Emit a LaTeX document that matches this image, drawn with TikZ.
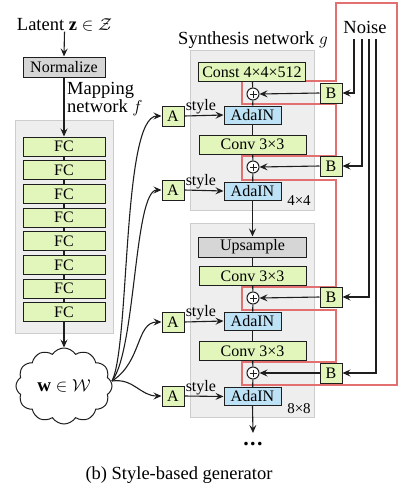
\documentclass[tikz,border=0pt]{standalone}
\usepackage{fontspec}
\setmainfont{Liberation Serif}
\usetikzlibrary{shapes.symbols,arrows.meta}
\definecolor{gfill}{RGB}{226,245,186}
\definecolor{bfill}{RGB}{189,225,245}
\definecolor{graybg}{RGB}{238,238,238}
\definecolor{grayline}{RGB}{205,205,205}
\definecolor{nfill}{RGB}{214,214,214}
\definecolor{redline}{RGB}{226,112,112}
\definecolor{ink}{RGB}{30,30,30}
\begin{document}
\begin{tikzpicture}[x=1pt,y=-1pt,
  every node/.style={inner sep=0pt},
  fnt/.style={font=\fontsize{#1}{#1}\selectfont},
  boxbase/.style={draw=ink,line width=1pt,fnt=16},
  fcbox/.style={boxbase,fill=gfill,minimum width=82,minimum height=19},
  normbox/.style={boxbase,fill=nfill,minimum width=82,minimum height=20},
  wide/.style={boxbase,fill=gfill,minimum width=107,minimum height=19},
  upbox/.style={boxbase,fill=nfill,minimum width=108,minimum height=20},
  ada/.style={boxbase,fill=bfill,minimum width=57,minimum height=18},
  abox/.style={boxbase,fill=gfill,minimum width=22,minimum height=20},
  bbox/.style={boxbase,fill=gfill,minimum width=22,minimum height=20},
  block/.style={draw=grayline,fill=graybg,line width=1pt},
  plus/.style={circle,draw=ink,fill=white,line width=1pt,minimum size=12,
    path picture={\draw[line width=0.8pt] ([xshift=-3.5]path picture bounding box.center) -- ([xshift=3.5]path picture bounding box.center);
                  \draw[line width=0.8pt] ([yshift=-3.5]path picture bounding box.center) -- ([yshift=3.5]path picture bounding box.center);}},
  conn/.style={draw=ink,line width=1.1pt},
  arr/.style={conn,-{Stealth[length=8pt,width=7pt,inset=3pt]}},
  lbl/.style={fnt=18.5}]
\useasboundingbox (0,0) rectangle (400,493);

% background blocks
\node[block,minimum width=98,minimum height=213] (mapblk) at (64,226.5) {};
\node[block,minimum width=124,minimum height=160] (syn1) at (252,130) {};
\node[block,minimum width=124,minimum height=194] (syn2) at (252,320) {};

% red outline
\draw[redline,line width=1.6pt] (336,3) -- (397,3) -- (397,385) -- (242,385) -- (242,362) -- (336,362)
  -- (336,310) -- (242,310) -- (242,287) -- (336,287) -- (336,180) -- (242,180) -- (242,156)
  -- (336,156) -- (336,104) -- (242,104) -- (242,81) -- (336,81) -- cycle;

% texts
\node[lbl] (latent) at (64.5,25) {Latent $\mathbf{z}\in\mathcal{Z}$};
\node[lbl,anchor=west,align=left,font=\fontsize{18.5}{18}\selectfont] (maptext) at (67,99) {Mapping\\network $f$};
\node[lbl] (syntext) at (253,40) {Synthesis network $g$};
\node[lbl] (noise) at (365,27) {Noise};
\node[lbl] (caption) at (179,475) {(b) Style-based generator};

% mapping network
\node[normbox] (norm) at (64,67) {Normalize};
\foreach \i in {1,...,8} \node[fcbox] (fc\i) at (64,{146.5+23.7*(\i-1)}) {FC};
\foreach \i [evaluate=\i as \j using int(\i+1)] in {1,...,7} \draw[conn] (fc\i) -- (fc\j);
\node[cloud,cloud puffs=12,cloud puff arc=115,aspect=1.3,draw=ink,line width=1pt,fill=white,
  minimum width=96,minimum height=76,fnt=19] (w) at (64,386) {$\mathbf{w}\in\mathcal{W}$};
\draw[arr] (latent.south) -- (norm.north);
\draw[arr] (norm.south) -- (fc1.north);
\draw[arr] (fc8.south) -- (w.north);

% A boxes
\node[abox] (A1) at (173,116) {A};
\node[abox] (A2) at (173,190) {A};
\node[abox] (A3) at (173,322) {A};
\node[abox] (A4) at (173,396) {A};
\coordinate (ws) at (112,381);
\draw[arr] (ws) .. controls (130,345) and (122,116) .. (A1.west);
\draw[arr] (ws) .. controls (136,350) and (134,190) .. (A2.west);
\draw[arr] (ws) .. controls (142,362) and (136,322) .. (A3.west);
\draw[arr] (ws) .. controls (134,378) and (140,396) .. (A4.west);

% synthesis
\node[wide] (const) at (252,72) {Const 4×4×512};
\node[plus] (p1) at (253,94) {};
\node[ada] (ada1) at (252.5,115) {AdaIN};
\node[wide] (conv1) at (252.5,144.5) {Conv 3×3};
\node[plus] (p2) at (253,167) {};
\node[ada] (ada2) at (252.5,191) {AdaIN};
\node[upbox] (up) at (252.5,247) {Upsample};
\node[wide] (conv2) at (252.5,276) {Conv 3×3};
\node[plus] (p3) at (253,298) {};
\node[ada] (ada3) at (252.5,321) {AdaIN};
\node[wide] (conv3) at (252.5,351) {Conv 3×3};
\node[plus] (p4) at (253,373) {};
\node[ada] (ada4) at (252.5,396.5) {AdaIN};
\node[fnt=15] (s1) at (299,201) {4×4};
\node[fnt=15] (s2) at (299,409) {8×8};
\coordinate (dtop) at (253,433);
\node[fnt=22] (dots) at (253,444) {\bfseries .\hspace{1.5pt}.\hspace{1.5pt}.};

\draw[conn] (const) -- (p1);
\draw[conn] (p1) -- (ada1);
\draw[conn] (ada1) -- (conv1);
\draw[conn] (conv1) -- (p2);
\draw[conn] (p2) -- (ada2);
\draw[arr] (ada2.south) -- (up.north);
\draw[conn] (up) -- (conv2);
\draw[conn] (conv2) -- (p3);
\draw[conn] (p3) -- (ada3);
\draw[conn] (ada3) -- (conv3);
\draw[conn] (conv3) -- (p4);
\draw[conn] (p4) -- (ada4);
\draw[arr] (ada4.south) -- (dtop);

% styles A -> AdaIN
\foreach \a/\d in {A1/ada1,A2/ada2,A3/ada3,A4/ada4} {
  \draw[arr] (\a.east) -- (\d.west) node[pos=0.42,above=1pt,fnt=16] {style};
}

% B boxes and noise
\node[bbox] (B1) at (331,93) {B};
\node[bbox] (B2) at (331,166) {B};
\node[bbox] (B3) at (331,297) {B};
\node[bbox] (B4) at (331,373) {B};
\coordinate (n1) at (354,39);
\coordinate (n2) at (362,39);
\coordinate (n3) at (369,39);
\coordinate (n4) at (376,39);
\draw[arr] (n1) |- (B1.east);
\draw[arr] (n2) |- (B2.east);
\draw[arr] (n3) |- (B3.east);
\draw[arr] (n4) |- (B4.east);
\draw[arr] (B1.west) -- (p1.east);
\draw[arr] (B2.west) -- (p2.east);
\draw[arr] (B3.west) -- (p3.east);
\draw[arr] (B4.west) -- (p4.east);
\end{tikzpicture}
\end{document}
